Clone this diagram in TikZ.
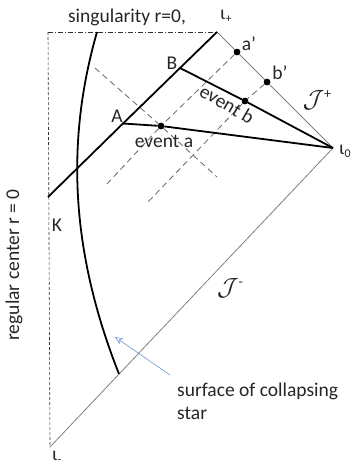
\documentclass[tikz,border=0pt]{standalone}
\usepackage{fontspec}
\setmainfont{Carlito}
\usetikzlibrary{arrows.meta}
\begin{document}
\begin{tikzpicture}[x=1pt,y=-1pt,
  lbl/.style={inner sep=0pt, font=\fontsize{19.5}{23}\selectfont, text=black!85},
  jlbl/.style={inner sep=0pt, font=\fontsize{26}{28}\selectfont, text=black!85},
  thinline/.style={draw=black!50, line width=0.8pt},
  thickline/.style={draw=black, line width=1.8pt},
  guide/.style={draw=black!60, line width=0.8pt, dash pattern=on 6pt off 4pt},
  dot/.style={circle, fill=black, inner sep=0pt, minimum size=6.5pt}]
\useasboundingbox (0,0) rectangle (354,466);
% key points
\coordinate (iplus) at (217,32);
\coordinate (izero) at (333,148);
\coordinate (iminus) at (50,447);
\coordinate (corner) at (48,32);
\coordinate (K) at (48,197);
\coordinate (A) at (123,123.5);
\coordinate (B) at (180,68);
\node[dot] (ea) at (161,126) {};
\node[dot] (eb) at (245,101) {};
\node[dot] (ap) at (237,52) {};
\node[dot] (bp) at (267,82) {};
\coordinate (starTop) at (97,32);
\coordinate (starBot) at (119,374);
\coordinate (aEnd) at (106,185);
\coordinate (bEnd) at (148,202);
\coordinate (cStart) at (95,68);
\coordinate (cEnd) at (217,177);
\coordinate (arrTail) at (170,375);
\coordinate (arrTip) at (115,337);
% boundary
\draw[black!80, line width=0.6pt, dash pattern=on 5pt off 2pt on 1pt off 2pt] (corner) -- (iplus);
\draw[black!80, line width=0.6pt, dash pattern=on 3pt off 2pt] (corner) -- (iminus);
\draw[thinline] (iplus) -- (izero) -- (iminus);
% guides
\draw[guide] (ap) -- (ea) -- (aEnd);
\draw[guide] (bp) -- (eb) -- (bEnd);
\draw[guide] (cStart) -- (ea) -- (cEnd);
% thick lines
\draw[thickline] (K) -- (A) -- (B) -- (iplus);
\draw[thickline] (A) -- (ea) -- (izero);
\draw[thickline] (B) -- (eb) -- (izero);
\draw[thickline] (starTop) .. controls (66,140) and (70,250) .. (starBot);
% redraw dots on top
\node[dot] at (ea) {};
\node[dot] at (eb) {};
\node[dot] at (ap) {};
\node[dot] at (bp) {};
% arrow
\draw[-{Stealth[length=8pt,width=7pt,open]}, line width=0.6pt, color={rgb,255:red,110;green,150;blue,210}] (arrTail) -- (arrTip);
% labels
\node[lbl] (tsing) at (127,17) {singularity r=0,};
\node[lbl, anchor=west] (tip) at (220,16) {ι\raisebox{-3pt}{\fontsize{12}{13}\selectfont +}};
\node[lbl, anchor=west] (tiz) at (339,151) {ι\raisebox{-3pt}{\fontsize{12}{13}\selectfont 0}};
\node[lbl, anchor=west] (tim) at (52,457) {ι\raisebox{-3pt}{\fontsize{12}{13}\selectfont -}};
\node[lbl, rotate=90] (treg) at (14,265) {regular center r = 0};
\node[lbl] (tA) at (117,116) {A};
\node[lbl] (tB) at (172,63) {B};
\node[lbl] (tK) at (57,225) {K};
\node[lbl] (tap) at (249,44) {a’};
\node[lbl] (tbp) at (280,73) {b’};
\node[lbl] (tea) at (164,141) {event a};
\node[lbl, rotate=-30] (teb) at (227,104) {event b};
\node[jlbl] (tJp) at (317,100) {$\mathcal{J}$\raisebox{9pt}{\fontsize{14}{15}\selectfont +}};
\node[jlbl] (tJm) at (230,288) {$\mathcal{J}$\raisebox{9pt}{\fontsize{14}{15}\selectfont -}};
\node[lbl, anchor=north west, align=left] (tsurf) at (177,383) {surface of collapsing\\star};
\end{tikzpicture}
\end{document}
